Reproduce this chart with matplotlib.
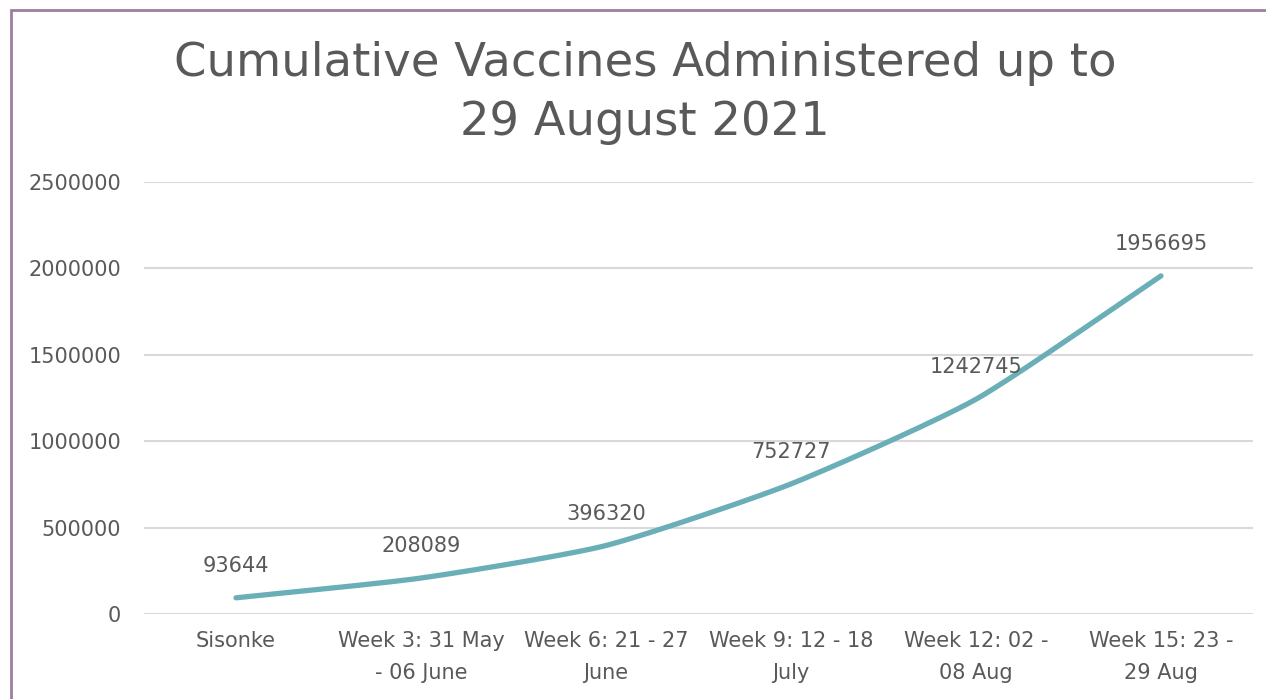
import numpy as np
import matplotlib
matplotlib.use("Agg")
import matplotlib.pyplot as plt
from matplotlib.patches import Rectangle

categories = ["Sisonke", "Week 3: 31 May\n- 06 June", "Week 6: 21 - 27\nJune",
              "Week 9: 12 - 18\nJuly", "Week 12: 02 -\n08 Aug", "Week 15: 23 -\n29 Aug"]
values = [93644, 208089, 396320, 752727, 1242745, 1956695]
yticks = [0, 500000, 1000000, 1500000, 2000000, 2500000]
title = "Cumulative Vaccines Administered up to\n29 August 2021"

TEXT = "#595959"
LINE = "#6AAFB8"
GRID = "#D9D9D9"
FONT = "DejaVu Sans"

W, H = 1266, 699
fig = plt.figure(figsize=(W / 100, H / 100), dpi=100)
plt.rcParams['font.family'] = [FONT]

ax = fig.add_axes([143.5 / W, 1 - 614 / H, (1253.5 - 143.5) / W, (614 - 182) / H])

x = np.arange(len(values))
y = np.array(values, dtype=float)

# Mildly smoothed line (Excel-style)
def smooth(xp, yp, k=1 / 10, n=40):
    P = np.column_stack([xp, yp])
    P = np.vstack([P[0] - (P[1] - P[0]), P, P[-1] + (P[-1] - P[-2])])
    out = []
    for i in range(1, len(P) - 2):
        p0, p1, p2, p3 = P[i - 1], P[i], P[i + 1], P[i + 2]
        t = np.linspace(0, 1, n)[:, None]
        c1 = p1 + (p2 - p0) * k
        c2 = p2 - (p3 - p1) * k
        seg = ((1 - t) ** 3) * p1 + 3 * ((1 - t) ** 2) * t * c1 + 3 * (1 - t) * t ** 2 * c2 + t ** 3 * p2
        out.append(seg if i == 1 else seg[1:])
    S = np.vstack(out)
    return S[:, 0], S[:, 1]

sx, sy = smooth(x, y)
ax.plot(sx, sy, color=LINE, lw=3.8, solid_capstyle="round", solid_joinstyle="round", zorder=3)

for xi, yi in zip(x, y):
    ax.annotate(f"{int(yi)}", (xi, yi), xytext=(0, 23), textcoords="offset points",
                ha="center", va="center", fontsize=15, color=TEXT)

ax.set_xlim(-0.5, len(values) - 0.5)
ax.set_ylim(0, 2500000)
ax.set_yticks(yticks)
ax.set_yticklabels([str(t) for t in yticks], fontsize=15, color=TEXT)
ax.set_xticks(x)
ax.set_xticklabels(categories, fontsize=15, color=TEXT, linespacing=1.8)
ax.tick_params(axis="x", length=0, pad=12)
ax.tick_params(axis="y", length=0, pad=16)
ax.grid(axis="y", color=GRID, lw=1.5, zorder=0)
for s in ax.spines.values():
    s.set_visible(False)
ax.set_axisbelow(True)

fig.text(645 / W, 1 - 93 / H, title, ha="center", va="center", fontsize=33.5,
         color=TEXT, linespacing=1.38)

fig.add_artist(Rectangle((11 / W, -0.1), 1.2, 1 - 10 / H + 0.1, transform=fig.transFigure,
                         fill=False, edgecolor="#A07CA0", lw=2, zorder=0))

fig.savefig("out.png", dpi=100)
